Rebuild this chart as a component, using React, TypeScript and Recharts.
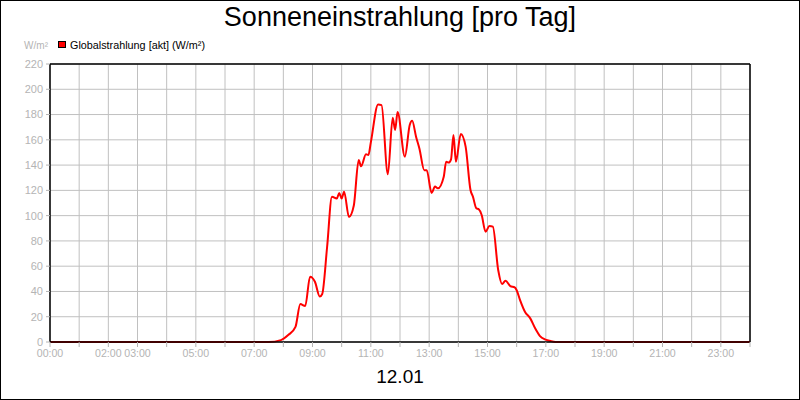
import React from "react";
import { LineChart, Line, XAxis, YAxis, CartesianGrid, ReferenceLine } from "recharts";

const times = [
  "00:00", "07:30", "07:55", "08:10", "08:25", "08:35", "08:45", "08:55", "09:05", "09:15",
  "09:20", "09:30", "09:40", "09:50", "09:55", "10:00", "10:05", "10:15", "10:25", "10:35",
  "10:40", "10:50", "10:55", "11:00", "11:15", "11:22", "11:35", "11:45", "11:50", "11:55",
  "12:10", "12:20", "12:25", "12:33", "12:40", "12:50", "12:55", "13:05", "13:12", "13:18",
  "13:30", "13:35", "13:40", "13:45", "13:50", "13:55", "14:05", "14:15", "14:25", "14:30",
  "14:37", "14:42", "14:48", "14:56", "15:04", "15:11", "15:22", "15:30", "15:37", "15:47",
  "15:56", "16:00", "16:07", "16:17", "16:28", "16:38", "16:48", "16:58", "17:08", "17:20",
  "24:00",
];

const globalstrahlung = [
  0, 0, 1.5, 5.5, 12, 30, 28.5, 51.7, 47.7, 36,
  38, 75, 115, 113.5, 118, 113.5, 119, 99, 108, 144,
  139, 148.5, 148, 158, 188, 187.5, 132.7, 177.5, 167.8, 182,
  146.7, 171.7, 175, 162.5, 153, 136, 136, 118, 123, 121.6,
  130.8, 142.7, 142, 144.6, 163.8, 142.7, 164.6, 154.6, 120.3, 115,
  105.8, 105, 100.5, 87.3, 91.8, 91.3, 57, 45.9, 48.5, 44.3,
  43.3, 41, 33.2, 24, 18.7, 10.8, 4.7, 2.1, 1, 0,
  0,
];

const hourTicks = [0, 1, 2, 3, 4, 5, 6, 7, 8, 9, 10, 11, 12, 13, 14, 15, 16, 17, 18, 19, 20, 21, 22, 23, 24];
const labeledHours = [0, 2, 3, 5, 7, 9, 11, 13, 15, 17, 19, 21, 23];
const yTicks = [0, 20, 40, 60, 80, 100, 120, 140, 160, 180, 200, 220];

const title = "Sonneneinstrahlung [pro Tag]";
const dateLabel = "12.01";
const unitLabel = "W/m²";
const seriesName = "Globalstrahlung [akt] (W/m²)";

const toMinutes = (t: string) => {
  const [h, m] = t.split(":").map(Number);
  return h * 60 + m;
};

const data = times.map((t, i) => ({ t: toMinutes(t), v: globalstrahlung[i] }));
const xTicks = hourTicks.map((h) => h * 60);

const pad = (n: number) => (n < 10 ? "0" + n : "" + n);
const fmtX = (m: number) => {
  const h = Math.round(m / 60);
  return labeledHours.includes(h) ? pad(h) + ":00" : "";
};

const FONT = "'Liberation Sans', Arial, sans-serif";
const GRAY = "#b4b4b4";

export default function App() {
  return (
    <div
      style={{
        position: "absolute",
        left: 0,
        top: 0,
        width: 800,
        height: 400,
        background: "#fff",
        fontFamily: FONT,
      }}
    >
      <LineChart
        width={800}
        height={400}
        data={data}
        margin={{ top: 64, right: 50, bottom: 0, left: 0 }}
      >
        <CartesianGrid stroke="#c0c0c0" strokeWidth={1} />
        <XAxis
          dataKey="t"
          type="number"
          domain={[0, 1440]}
          ticks={xTicks}
          interval={0}
          tickFormatter={fmtX}
          height={58}
          tickSize={5}
          tickMargin={2}
          axisLine={{ stroke: "#000", strokeWidth: 1.5 }}
          tickLine={{ stroke: GRAY }}
          tick={{ fill: GRAY, fontSize: 10.6, fontFamily: FONT }}
        />
        <YAxis
          type="number"
          domain={[0, 220]}
          ticks={yTicks}
          interval={0}
          width={50}
          tickSize={4}
          tickMargin={3}
          axisLine={{ stroke: "#000", strokeWidth: 1.5 }}
          tickLine={{ stroke: GRAY }}
          tick={{ fill: GRAY, fontSize: 11, fontFamily: FONT }}
        />
        <ReferenceLine y={220} stroke="#000" strokeWidth={1.5} />
        <ReferenceLine x={1440} stroke="#000" strokeWidth={1.5} />
        <Line
          type="monotone"
          dataKey="v"
          stroke="#ff0000"
          strokeWidth={2}
          dot={false}
          isAnimationActive={false}
        />
      </LineChart>
      <div
        style={{
          position: "absolute",
          left: 0,
          top: -1,
          width: 800,
          textAlign: "center",
          fontSize: 27,
          lineHeight: "36px",
          color: "#000",
        }}
      >
        {title}
      </div>
      <div
        style={{
          position: "absolute",
          left: 0,
          top: 40.5,
          width: 48,
          textAlign: "right",
          fontSize: 10,
          lineHeight: "10px",
          color: GRAY,
        }}
      >
        {unitLabel}
      </div>
      <div
        style={{
          position: "absolute",
          left: 58,
          top: 41,
          width: 8,
          height: 7,
          background: "#ff0000",
          border: "1px solid #000",
          boxSizing: "border-box",
        }}
      />
      <div
        style={{
          position: "absolute",
          left: 70,
          top: 39.5,
          fontSize: 10.8,
          lineHeight: "10px",
          color: "#000",
          whiteSpace: "nowrap",
        }}
      >
        {seriesName}
      </div>
      <div
        style={{
          position: "absolute",
          left: 0,
          top: 367,
          width: 800,
          textAlign: "center",
          fontSize: 19,
          lineHeight: "19px",
          color: "#000",
        }}
      >
        {dateLabel}
      </div>
      <div
        style={{
          position: "absolute",
          left: 0,
          top: 0,
          width: 800,
          height: 400,
          border: "1px solid #000",
          boxSizing: "border-box",
          pointerEvents: "none",
        }}
      />
    </div>
  );
}
